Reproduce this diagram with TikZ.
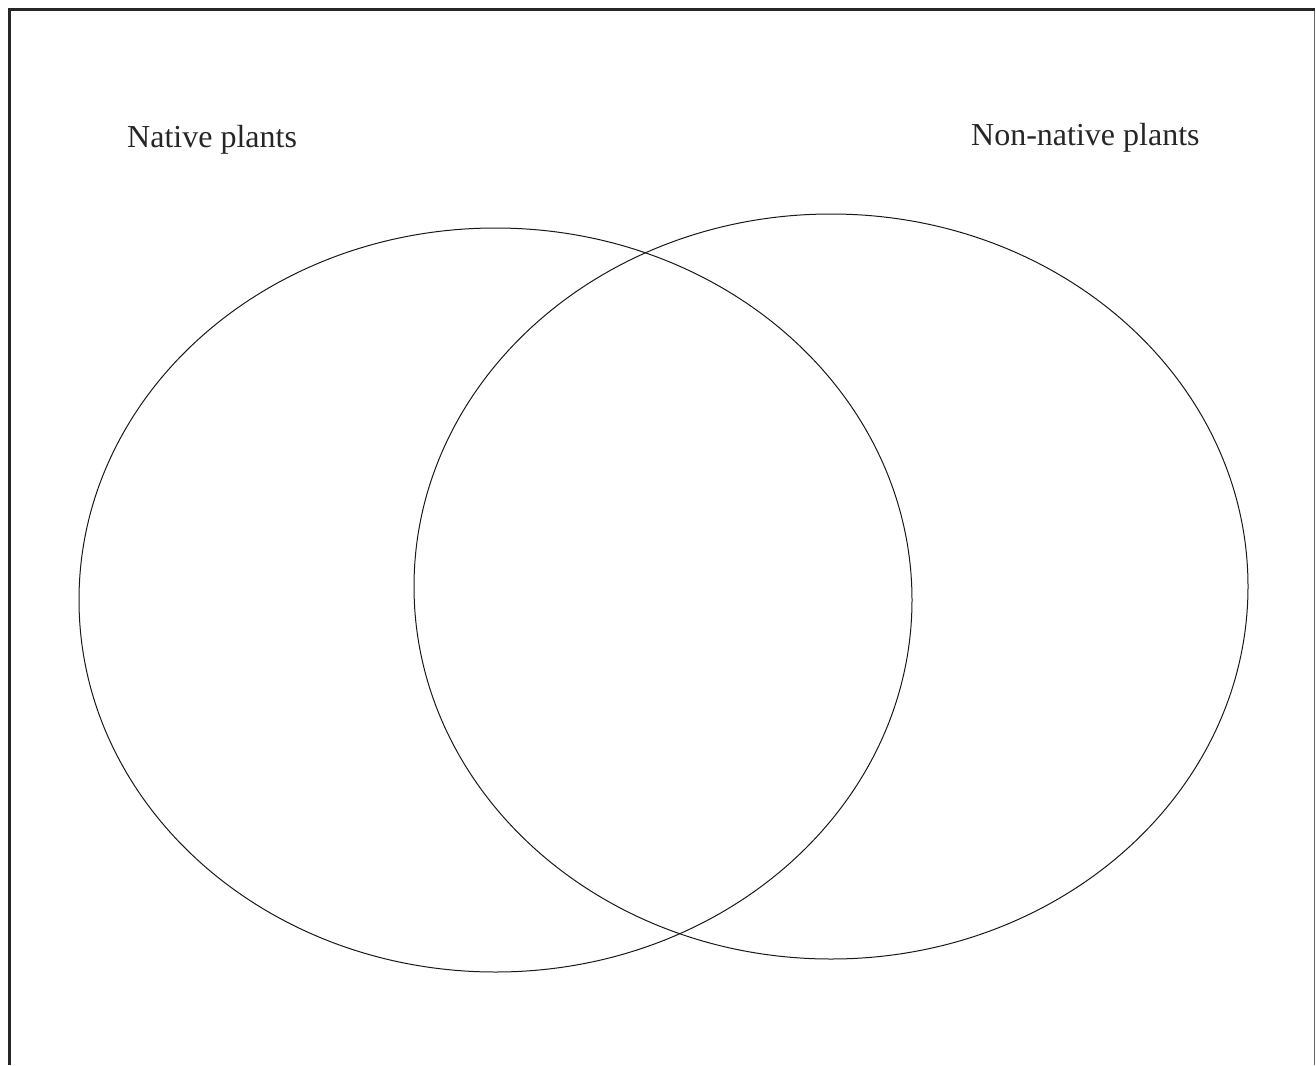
\documentclass[tikz,border=0pt]{standalone}
\usepackage{fontspec}
\setmainfont{Liberation Serif}
\begin{document}
\begin{tikzpicture}[x=1pt,y=-1pt,
  frame/.style={draw=black!85,line width=3pt},
  thinframe/.style={draw=black!60,line width=1.2pt},
  setshape/.style={draw=black!90,line width=1pt},
  lbl/.style={font=\fontsize{32}{38}\selectfont,inner sep=0pt,anchor=base west,text=black!85}]
\useasboundingbox (0,0) rectangle (1316,1065);
\coordinate (tl) at (9.5,10);
\coordinate (tr) at (1314.5,10);
\coordinate (bl) at (9.5,1065);
\coordinate (br) at (1314.5,1065);
\draw[thinframe] (tr) -- (br);
\draw[frame] (bl) -- (tl) -- (tr);
\draw[setshape] (495.5,600) ellipse [x radius=416.5, y radius=372];
\draw[setshape] (831,586.5) ellipse [x radius=417, y radius=372.5];
\node[lbl] (native) at (127,147.5) {Native plants};
\node[lbl] (nonnative) at (971,145.5) {Non-native plants};
\end{tikzpicture}
\end{document}
